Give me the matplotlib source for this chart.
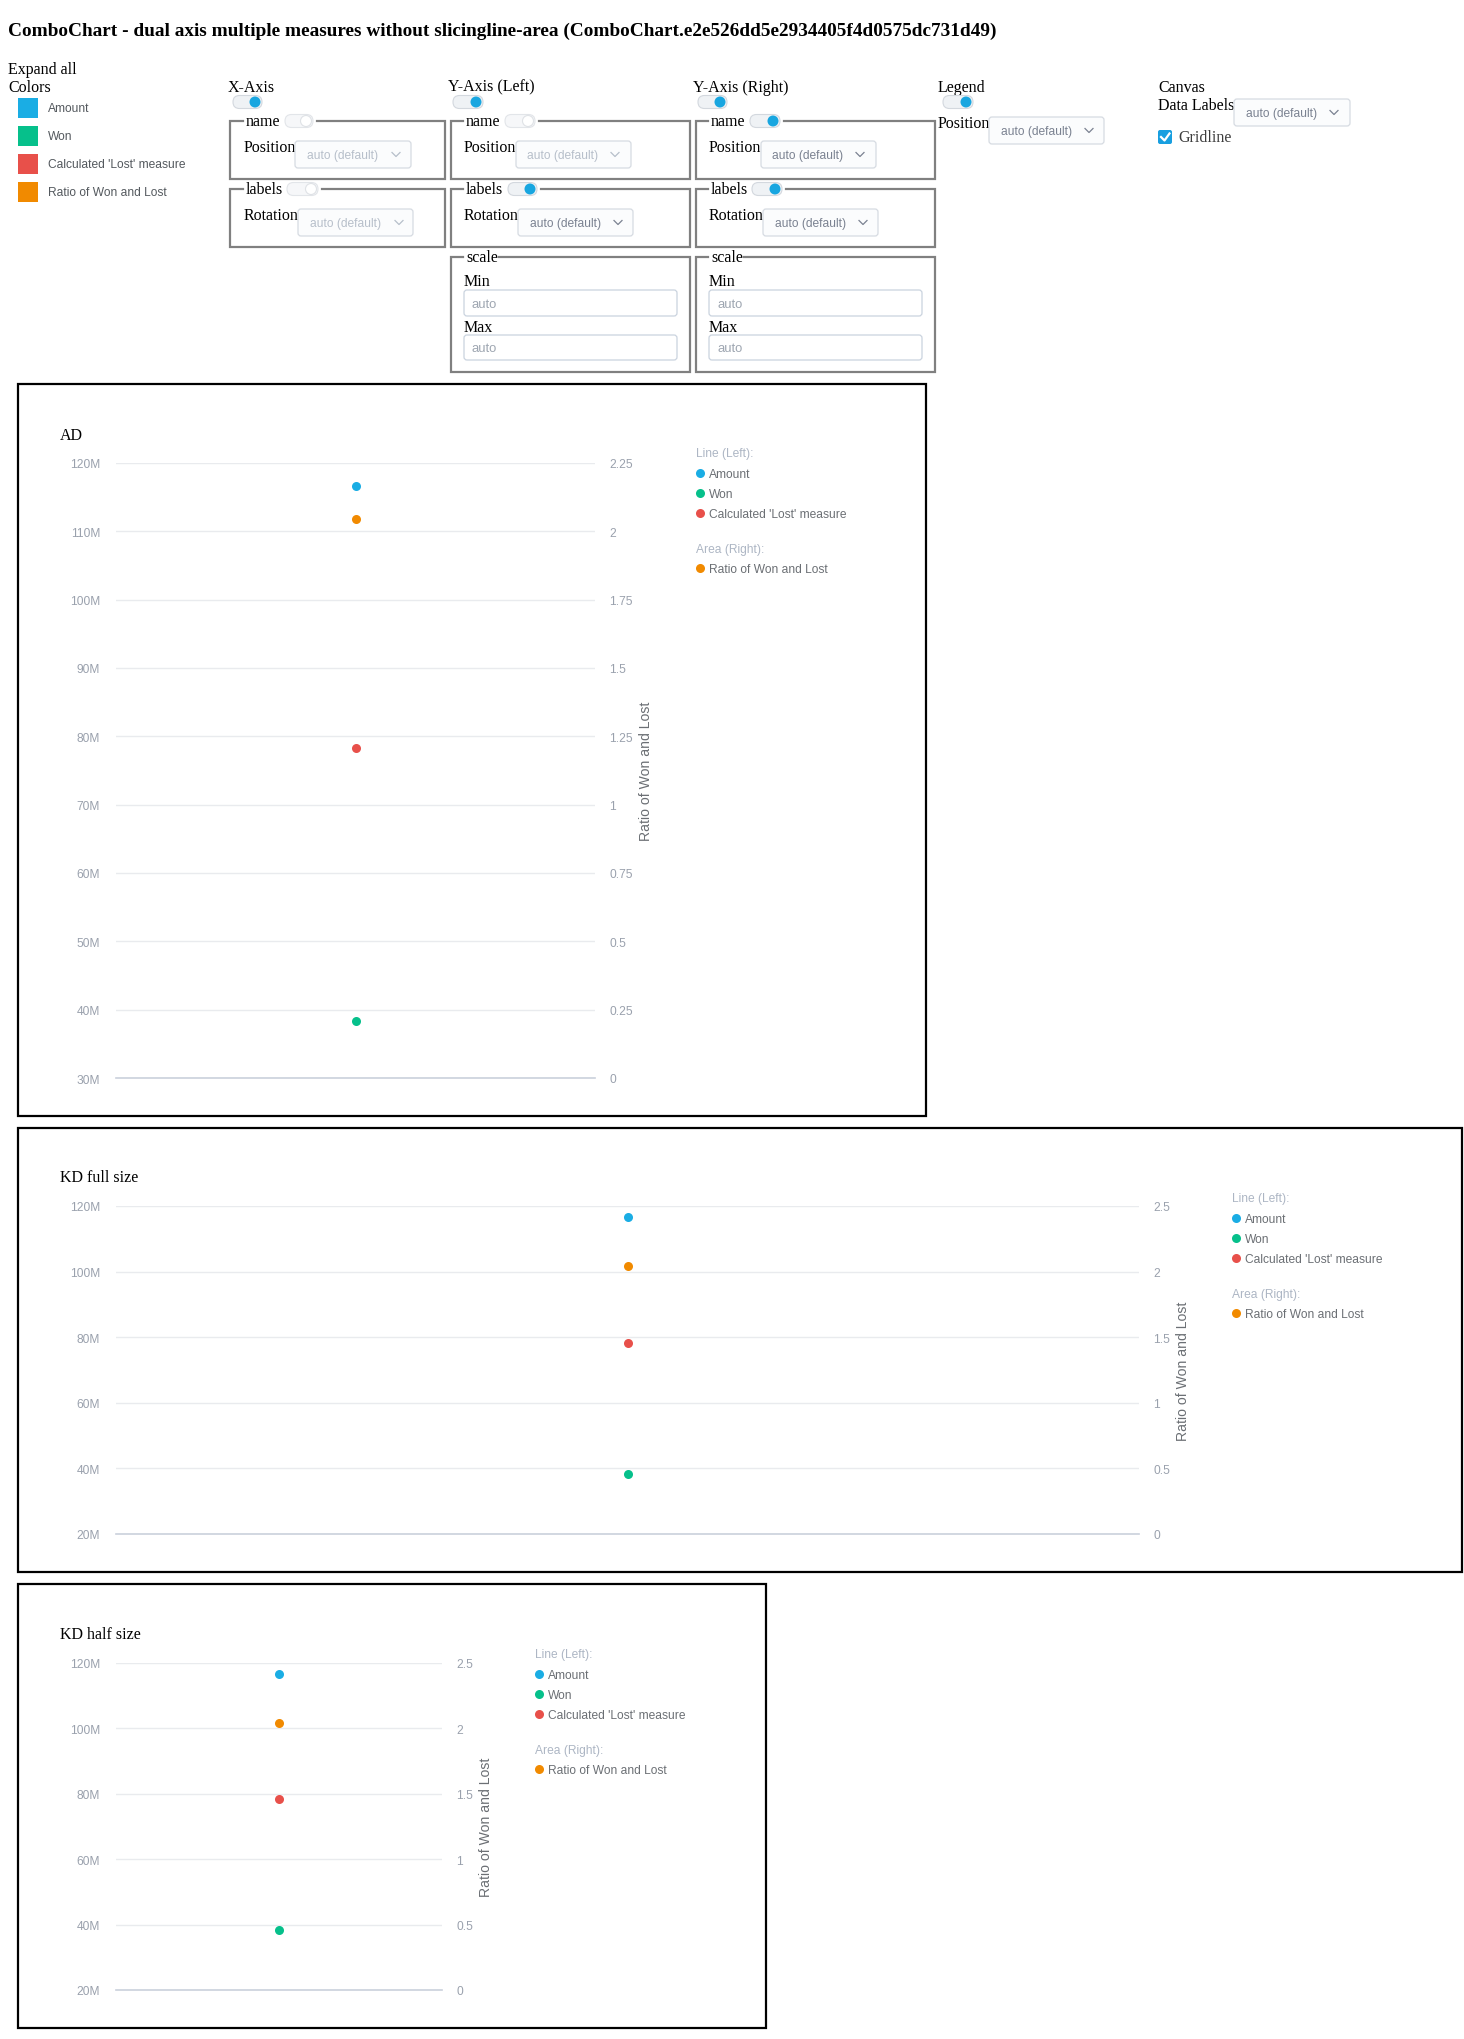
import matplotlib
matplotlib.use("Agg")
import matplotlib.pyplot as plt
from matplotlib.patches import FancyBboxPatch, Rectangle, Circle
import numpy as np

W, H = 1464, 2040
SERIF = "Liberation Serif"
SANS = "Liberation Sans"

# data: one (unnamed) category, three line measures on the left axis, one area measure on the right
categories = [""]
line_measures = ["Amount", "Won", "Calculated 'Lost' measure"]
line_values = [[116.6e6], [38.3e6], [78.3e6]]
area_measure = "Ratio of Won and Lost"
area_values = [2.045]
measure_colors = ["#1aade4", "#06c08b", "#e8504a", "#f18a00"]

# layout of the three chart cards, in screen pixels
panels = [
    dict(title="AD", box=(18, 385, 926, 1117), plot=(116, 464, 595, 1079),
         left=(30e6, 120e6, 10e6), right=(0, 2.25, 0.25), legend=(696, 453), ytitle=(646, 771)),
    dict(title="KD full size", box=(18, 1129, 1462, 1573), plot=(116, 1207, 1139, 1535),
         left=(20e6, 120e6, 20e6), right=(0, 2.5, 0.5), legend=(1232, 1198), ytitle=(1183, 1371)),
    dict(title="KD half size", box=(18, 1585, 766, 2029), plot=(116, 1664, 442, 1991),
         left=(20e6, 120e6, 20e6), right=(0, 2.5, 0.5), legend=(535, 1654), ytitle=(486, 1827)),
]


def pt(px):
    return px * 0.72


fig = plt.figure(figsize=(W / 100, H / 100), dpi=100)
fig.patch.set_facecolor("white")
ui = fig.add_axes([0, 0, 1, 1])
ui.set_xlim(0, W)
ui.set_ylim(H, 0)
ui.axis("off")


def label(x, y, s, size=16, color="black", family=SERIF, **kw):
    # serif text sits a little high with va=center, nudge it down
    dy = 1.5 if family == SERIF else 1
    ui.text(x, y + dy, s, fontsize=pt(size), color=color, family=family, va="center", ha="left", **kw)


def toggle(x0, x1, yc, on=True):
    h = 13
    face = "#eff2f5" if on else "#f6f7f9"
    edge = "#d3d8de" if on else "#e2e5e9"
    ui.add_patch(FancyBboxPatch((x0, yc - h / 2), x1 - x0, h, boxstyle=f"round,pad=0,rounding_size={h/2}",
                                fc=face, ec=edge, lw=0.8, zorder=3))
    if on:
        ui.add_patch(Circle((x1 - 7, yc), 5.5, fc="#18a6e0", ec="none", zorder=4))
    else:
        ui.add_patch(Circle((x1 - 7, yc), 5.5, fc="white", ec="#dfe2e6", lw=0.8, zorder=4))


def fieldset(x0, y0, x1, y1, g0, g1):
    ui.plot([g0, x0, x0, x1, x1, g1], [y0, y0, y1, y1, y0, y0], color="#808080", lw=1.6,
            solid_joinstyle="miter", zorder=2)


def dropdown(x0, y0, x1, y1, tx, cx, enabled=True):
    ui.add_patch(FancyBboxPatch((x0, y0), x1 - x0, y1 - y0, boxstyle="round,pad=0,rounding_size=3",
                                fc="#fbfcfd", ec="#d6dbe2", lw=0.9, zorder=3))
    col = "#7b8291" if enabled else "#b7bfca"
    cy = (y0 + y1) / 2
    ui.text(tx, cy + 1, "auto (default)", fontsize=pt(12), color=col, family=SANS, va="center", zorder=4)
    ui.plot([cx - 4, cx, cx + 4], [cy - 2, cy + 2, cy - 2], color=col, lw=0.9, zorder=4)


def textbox(x0, y0, x1, y1):
    ui.add_patch(FancyBboxPatch((x0, y0), x1 - x0, y1 - y0, boxstyle="round,pad=0,rounding_size=3",
                                fc="white", ec="#cad3df", lw=0.9, zorder=3))
    ui.text(x0 + 8, (y0 + y1) / 2 + 1, "auto", fontsize=pt(13), color="#9ea6b1", family=SANS, va="center", zorder=4)


# page title
ui.text(8, 31.5, "ComboChart - dual axis multiple measures without slicingline-area "
        "(ComboChart.e2e526dd5e2934405f4d0575dc731d49)",
        fontsize=pt(19.25), weight="bold", family=SERIF, va="center")

label(8, 68, "Expand all")
label(8, 86, "Colors")
swatch_names = line_measures + [area_measure]
for i, (name, c) in enumerate(zip(swatch_names, measure_colors)):
    y0 = 99 + i * 28
    ui.add_patch(Rectangle((18, y0), 20, 20, fc=c, ec="none"))
    label(48, y0 + 9, name, size=12, color="#54595e", family=SANS)

# X-Axis
label(228, 86, "X-Axis")
toggle(233, 262, 103)
fieldset(230, 122, 445, 180, 243, 317)
label(246, 121, "name")
toggle(285, 313, 122, on=False)
label(244, 146, "Position")
dropdown(295, 142, 411, 169, 307, 396, enabled=False)
fieldset(230, 190, 445, 248, 243, 322)
label(246, 189, "labels")
toggle(287, 318, 190, on=False)
label(244, 214, "Rotation")
dropdown(298, 210, 413, 237, 310, 399, enabled=False)

# Y-Axis (Left)
label(448, 86, "Y-Axis (Left)")
toggle(453, 483, 103)
fieldset(451, 122, 690, 180, 463, 539)
label(466, 121, "name")
toggle(505, 535, 122, on=False)
label(464, 146, "Position")
dropdown(516, 142, 631, 169, 527, 615, enabled=False)
fieldset(451, 190, 690, 248, 463, 541)
label(466, 189, "labels")
toggle(508, 537, 190)
label(464, 214, "Rotation")
dropdown(518, 210, 633, 237, 530, 618)
fieldset(451, 258, 690, 373, 463, 499)
label(466, 257, "scale")
label(464, 281, "Min")
textbox(464, 291, 677, 317)
label(464, 326, "Max")
textbox(464, 336, 677, 361)

# Y-Axis (Right)
label(693, 86, "Y-Axis (Right)")
toggle(698, 727, 103)
fieldset(696, 122, 935, 180, 708, 784)
label(711, 121, "name")
toggle(750, 780, 122)
label(709, 146, "Position")
dropdown(761, 142, 876, 169, 772, 860)
fieldset(696, 190, 935, 248, 708, 786)
label(711, 189, "labels")
toggle(752, 782, 190)
label(709, 214, "Rotation")
dropdown(763, 210, 878, 237, 775, 863)
fieldset(696, 258, 935, 373, 708, 744)
label(711, 257, "scale")
label(709, 281, "Min")
textbox(709, 291, 922, 317)
label(709, 326, "Max")
textbox(709, 336, 922, 361)

# Legend
label(938, 86, "Legend")
toggle(943, 973, 103)
label(938, 122, "Position")
dropdown(989, 118, 1104, 145, 1001, 1089)

# Canvas
label(1158, 86, "Canvas")
label(1158, 104, "Data Labels")
dropdown(1234, 100, 1350, 127, 1246, 1334)
ui.add_patch(FancyBboxPatch((1158, 131), 14, 14, boxstyle="round,pad=0,rounding_size=2",
                            fc="#189fe0", ec="none"))
ui.plot([1161, 1164.5, 1169.5], [138, 141.5, 134.5], color="white", lw=1.6)
label(1178, 137, "Gridline", color="#3d3d3d")


def fmt_left(v):
    return f"{v / 1e6:g}M"


x = np.arange(len(categories))
for p in panels:
    bx0, by0, bx1, by1 = p["box"]
    ui.add_patch(Rectangle((bx0, by0), bx1 - bx0, by1 - by0, fill=False, ec="black", lw=1.6))
    label(bx0 + 42, p["plot"][1] - 30, p["title"])

    x0, y0, x1, y1 = p["plot"]
    ax = fig.add_axes([x0 / W, 1 - y1 / H, (x1 - x0) / W, (y1 - y0) / H])
    ax.set_facecolor("none")
    lo, hi, step = p["left"]
    ax.set_ylim(lo, hi)
    ax.set_xlim(-0.5, len(categories) - 0.5)
    lt = np.arange(lo, hi + step / 2, step)
    ax.set_yticks(lt)
    ax.set_yticklabels([fmt_left(v) for v in lt])
    ax.set_xticks([])
    for s in ax.spines.values():
        s.set_visible(False)
    ax.grid(axis="y", color="#e9ebee", lw=1)
    ax.axhline(lo, color="#cbd1dc", lw=1.2, clip_on=False)
    ax.tick_params(axis="y", length=0, pad=11.5, labelsize=pt(12), labelcolor="#9aa1ad")
    for t in ax.get_yticklabels():
        t.set_family(SANS)
    for vals, c in zip(line_values, measure_colors):
        ax.plot(x, vals, color=c, lw=2, marker="o", ms=6.5, mec="none", clip_on=False)

    ax2 = ax.twinx()
    rlo, rhi, rstep = p["right"]
    ax2.set_ylim(rlo, rhi)
    rt = np.arange(rlo, rhi + rstep / 2, rstep)
    ax2.set_yticks(rt)
    ax2.set_yticklabels([f"{v:g}" for v in rt])
    for s in ax2.spines.values():
        s.set_visible(False)
    ax2.tick_params(axis="y", length=0, pad=10.5, labelsize=pt(12), labelcolor="#9aa1ad")
    for t in ax2.get_yticklabels():
        t.set_family(SANS)
    ax2.fill_between(x, rlo, area_values, color=measure_colors[3], alpha=0.3, lw=0)
    ax2.plot(x, area_values, color=measure_colors[3], lw=2, marker="o", ms=6.5, mec="none", clip_on=False)

    tx, ty = p["ytitle"]
    ui.text(tx, ty, area_measure, rotation=90, ha="center", va="center", fontsize=pt(14),
            color="#6b6f74", family=SANS)

    lx, ly = p["legend"]
    ui.text(lx, ly + 1, "Line (Left):", fontsize=pt(12), color="#adb6c4", family=SANS, va="center")
    for i, (name, c) in enumerate(zip(line_measures, measure_colors)):
        yy = ly + 21 + 20 * i
        ui.plot([lx + 4], [yy], marker="o", ms=6.5, color=c, mec="none")
        ui.text(lx + 13, yy + 1, name, fontsize=pt(12), color="#6b6f74", family=SANS, va="center")
    ui.text(lx, ly + 97, "Area (Right):", fontsize=pt(12), color="#adb6c4", family=SANS, va="center")
    ui.plot([lx + 4], [ly + 116], marker="o", ms=6.5, color=measure_colors[3], mec="none")
    ui.text(lx + 13, ly + 117, area_measure, fontsize=pt(12), color="#6b6f74", family=SANS, va="center")

fig.savefig("out.png", dpi=100, facecolor="white")
